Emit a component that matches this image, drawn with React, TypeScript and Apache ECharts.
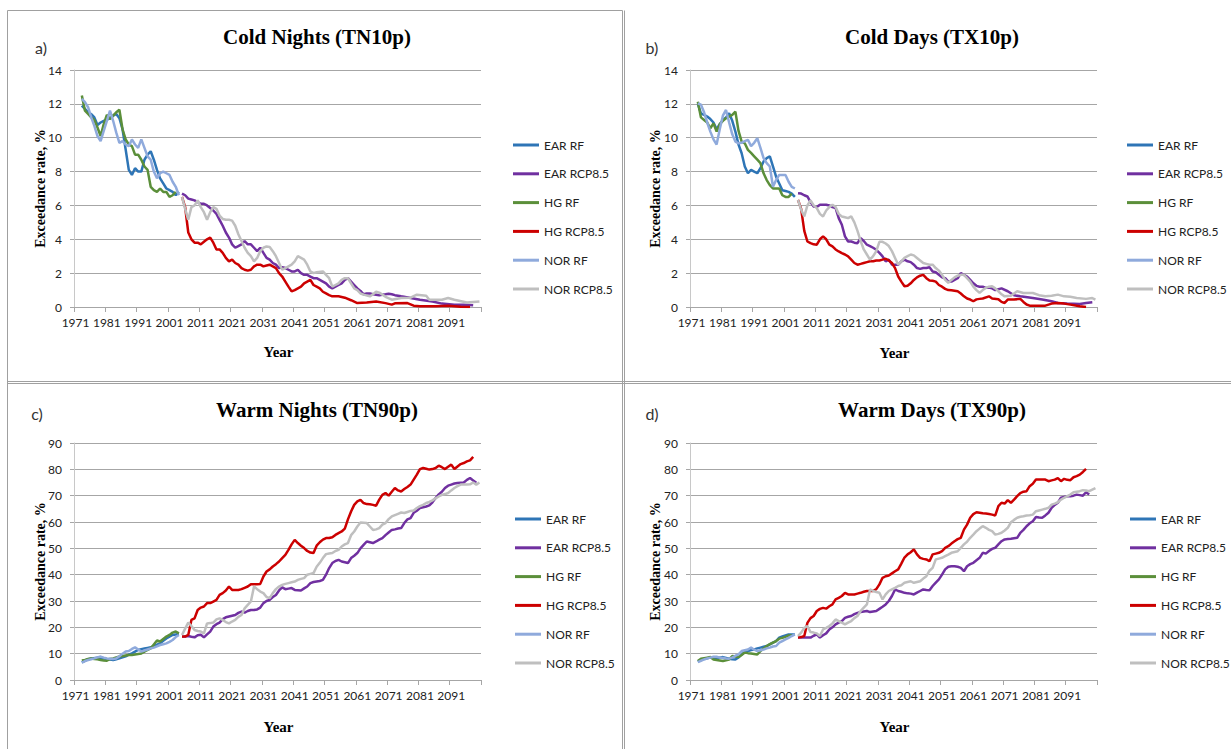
import React, { useEffect, useRef } from "react";
import * as echarts from "echarts";

type Pt = [number, number];

// ---------- categories ----------
const years: string[] = [];
for (let y = 1971; y <= 2100; y++) years.push(String(y));

const seriesNames = ["EAR RF", "EAR RCP8.5", "HG RF", "HG RCP8.5", "NOR RF", "NOR RCP8.5"];
const seriesColors = ["#2E75B6", "#7030A0", "#5B8F3A", "#CC0000", "#8FAADC", "#BFBFBF"];
const panelTitles = ["Cold Nights (TN10p)", "Cold Days (TX10p)", "Warm Nights (TN90p)", "Warm Days (TX90p)"];
const panelLetters = ["a)", "b)", "c)", "d)"];
const yMaxes = [14, 14, 90, 90];
const yIntervals = [2, 2, 10, 10];
const yAxisTitle = "Exceedance rate, %";
const xAxisTitle = "Year";

// ---------- a) Cold Nights (TN10p) ----------
const tn10pEarRf: Pt[] = [[1973,11.9],[1974,11.7],[1975,11.5],[1976,11.4],[1977,11.2],[1978,10.75],[1979,10.9],[1980,11.0],[1982,11.15],[1983,11.3],[1984,11.4],[1985,11.15],[1986,10.5],[1987,9.3],[1988,8.1],[1989,7.8],[1990,8.2],[1991,8.0],[1992,8.0],[1993,8.7],[1994,9.0],[1995,9.2],[1996,8.7],[1997,8.1],[1998,7.6],[1999,7.3],[2000,7.0],[2001,6.9],[2002,6.8],[2003,6.6],[2004,6.8]];
const tn10pEarRcp: Pt[] = [[2005,6.7],[2006,6.6],[2007,6.4],[2008,6.35],[2009,6.3],[2010,6.2],[2011,6.1],[2012,6.1],[2013,6.0],[2014,5.85],[2015,5.7],[2016,5.5],[2017,5.15],[2018,4.8],[2019,4.4],[2020,4.1],[2021,3.7],[2022,3.5],[2023,3.6],[2024,3.7],[2025,3.9],[2026,3.7],[2027,3.7],[2028,3.5],[2029,3.3],[2030,3.5],[2031,3.2],[2032,2.9],[2033,2.8],[2034,2.6],[2035,2.5],[2036,2.3],[2037,2.35],[2038,2.3],[2039,2.2],[2040,2.1],[2041,2.1],[2042,2.2],[2043,2.0],[2044,1.9],[2045,1.9],[2046,1.8],[2047,1.7],[2048,1.7],[2049,1.6],[2050,1.5],[2051,1.4],[2052,1.2],[2053,1.1],[2054,1.2],[2055,1.3],[2056,1.4],[2057,1.6],[2058,1.7],[2059,1.5],[2060,1.3],[2061,1.1],[2062,0.95],[2063,0.75],[2064,0.8],[2065,0.8],[2066,0.75],[2067,0.73],[2068,0.7],[2070,0.75],[2071,0.78],[2072,0.75],[2073,0.7],[2075,0.63],[2078,0.53],[2081,0.43],[2085,0.33],[2088,0.2],[2092,0.14],[2095,0.14],[2098,0.1]];
const tn10pHgRf: Pt[] = [[1973,12.5],[1974,11.6],[1975,11.4],[1976,11.2],[1977,11.05],[1978,10.6],[1979,10.1],[1980,10.8],[1981,11.35],[1982,11.1],[1983,11.3],[1984,11.5],[1985,11.65],[1986,10.5],[1987,9.9],[1988,9.6],[1989,9.5],[1990,9.0],[1991,9.0],[1992,8.7],[1993,8.3],[1994,8.1],[1995,7.1],[1996,6.9],[1997,6.8],[1998,7.0],[1999,6.8],[2000,6.8],[2001,6.5],[2002,6.6],[2003,6.8]];
const tn10pHgRcp: Pt[] = [[2005,6.5],[2006,5.9],[2007,4.4],[2008,4.0],[2009,3.8],[2010,3.8],[2011,3.7],[2012,3.85],[2013,4.0],[2014,4.1],[2015,3.8],[2016,3.4],[2017,3.4],[2018,3.2],[2019,2.9],[2020,2.7],[2021,2.8],[2022,2.6],[2023,2.5],[2024,2.3],[2025,2.2],[2026,2.15],[2027,2.2],[2028,2.4],[2029,2.5],[2030,2.5],[2031,2.4],[2032,2.45],[2033,2.5],[2034,2.4],[2035,2.3],[2036,2.0],[2037,1.8],[2038,1.5],[2039,1.2],[2040,0.92],[2041,1.0],[2042,1.1],[2043,1.2],[2044,1.4],[2045,1.5],[2046,1.6],[2047,1.3],[2048,1.2],[2049,1.1],[2050,0.9],[2051,0.8],[2052,0.7],[2053,0.63],[2055,0.63],[2057,0.55],[2059,0.4],[2061,0.23],[2064,0.27],[2067,0.33],[2070,0.23],[2072,0.14],[2073,0.22],[2077,0.23],[2079,0.08],[2081,0.04],[2086,0.05],[2090,0.08],[2094,0.02],[2097,0.0]];
const tn10pNorRf: Pt[] = [[1973,12.3],[1974,12.1],[1975,11.8],[1976,11.2],[1977,10.7],[1978,10.1],[1979,9.8],[1980,10.4],[1981,11.0],[1982,11.6],[1983,11.0],[1984,10.3],[1985,9.7],[1986,9.8],[1987,9.6],[1988,9.5],[1989,9.9],[1990,9.6],[1991,9.4],[1992,9.9],[1993,9.4],[1994,8.9],[1995,8.7],[1996,8.0],[1997,7.6],[1998,7.9],[1999,8.0],[2000,7.9],[2001,7.8],[2002,7.4],[2003,7.1],[2004,6.6]];
const tn10pNorRcp: Pt[] = [[2005,6.5],[2006,5.8],[2007,5.15],[2008,5.9],[2009,6.0],[2010,6.3],[2011,5.9],[2012,5.6],[2013,5.15],[2014,5.6],[2015,5.9],[2016,5.8],[2017,5.4],[2018,5.2],[2019,5.15],[2020,5.15],[2021,5.1],[2022,4.8],[2023,4.3],[2024,3.9],[2025,3.5],[2026,3.2],[2027,3.0],[2028,2.7],[2029,2.9],[2030,3.3],[2031,3.5],[2032,3.58],[2033,3.55],[2034,3.3],[2035,3.0],[2036,2.6],[2037,2.2],[2038,2.3],[2039,2.4],[2040,2.5],[2041,2.7],[2042,3.0],[2043,2.9],[2044,2.8],[2045,2.5],[2046,2.1],[2047,2.0],[2048,2.05],[2050,2.1],[2051,1.9],[2052,1.7],[2053,1.2],[2054,1.3],[2055,1.4],[2056,1.6],[2057,1.7],[2058,1.7],[2059,1.4],[2060,1.1],[2061,1.0],[2062,0.8],[2063,0.73],[2065,0.63],[2066,0.75],[2067,0.9],[2068,0.85],[2069,0.73],[2070,0.6],[2072,0.43],[2075,0.53],[2078,0.55],[2080,0.73],[2083,0.66],[2084,0.43],[2088,0.43],[2090,0.53],[2092,0.43],[2096,0.27],[2100,0.33]];

// ---------- b) Cold Days (TX10p) ----------
const tx10pEarRf: Pt[] = [[1973,12.0],[1974,11.44],[1975,11.35],[1976,11.25],[1977,11.1],[1978,10.9],[1979,10.5],[1980,10.8],[1981,11.05],[1982,11.2],[1983,11.44],[1984,11.0],[1985,10.36],[1986,9.6],[1987,9.08],[1988,8.3],[1989,7.9],[1990,8.1],[1991,8.0],[1992,7.9],[1993,8.2],[1994,8.6],[1995,8.8],[1996,8.9],[1997,8.3],[1998,7.7],[1999,7.3],[2000,6.9],[2001,6.85],[2002,6.8],[2003,6.7],[2004,6.5]];
const tx10pEarRcp: Pt[] = [[2005,6.72],[2006,6.7],[2007,6.6],[2008,6.53],[2009,6.2],[2010,5.93],[2011,5.9],[2012,6.04],[2013,6.04],[2014,6.04],[2015,6.0],[2016,5.9],[2017,5.84],[2018,5.25],[2019,4.86],[2020,4.17],[2021,3.87],[2022,3.87],[2023,3.8],[2024,3.77],[2025,4.07],[2026,3.9],[2027,3.68],[2028,3.6],[2029,3.5],[2030,3.38],[2031,3.2],[2032,2.99],[2033,2.7],[2034,2.8],[2035,2.5],[2036,2.5],[2037,2.5],[2038,2.7],[2039,2.8],[2040,2.7],[2041,2.65],[2042,2.5],[2043,2.3],[2044,2.25],[2045,2.3],[2046,2.3],[2047,2.35],[2048,2.1],[2049,2.05],[2050,1.9],[2051,1.75],[2052,1.7],[2053,1.5],[2054,1.5],[2055,1.6],[2056,1.7],[2057,2.0],[2058,1.9],[2059,1.8],[2060,1.6],[2061,1.4],[2062,1.25],[2063,1.2],[2064,1.2],[2065,1.13],[2066,1.15],[2067,1.1],[2068,1.0],[2069,1.05],[2070,1.1],[2072,0.93],[2074,0.69],[2076,0.63],[2080,0.53],[2083,0.44],[2086,0.34],[2088,0.24],[2091,0.2],[2095,0.18],[2097,0.24],[2099,0.28]];
const tx10pHgRf: Pt[] = [[1973,12.13],[1974,11.2],[1975,11.05],[1976,10.9],[1977,10.56],[1978,10.85],[1979,10.36],[1980,10.8],[1981,11.0],[1982,11.15],[1983,11.25],[1984,11.35],[1985,11.54],[1986,10.4],[1987,9.77],[1988,9.67],[1989,9.28],[1990,9.1],[1991,8.9],[1992,8.7],[1993,8.5],[1994,7.9],[1995,7.5],[1996,7.2],[1997,7.0],[1998,7.0],[1999,7.0],[2000,6.6],[2001,6.5],[2002,6.5],[2003,6.7]];
const tx10pHgRcp: Pt[] = [[2005,6.33],[2006,5.8],[2007,4.5],[2008,3.87],[2009,3.77],[2010,3.7],[2011,3.68],[2012,4.0],[2013,4.17],[2014,4.0],[2015,3.68],[2016,3.58],[2017,3.4],[2018,3.28],[2019,3.18],[2020,3.1],[2021,2.99],[2022,2.8],[2023,2.6],[2024,2.5],[2025,2.55],[2026,2.6],[2027,2.65],[2028,2.7],[2029,2.7],[2030,2.75],[2031,2.75],[2032,2.8],[2033,2.85],[2034,2.75],[2035,2.6],[2036,2.3],[2037,1.8],[2038,1.5],[2039,1.23],[2040,1.25],[2041,1.4],[2042,1.6],[2043,1.75],[2044,1.85],[2045,1.9],[2046,1.7],[2047,1.56],[2048,1.55],[2049,1.5],[2050,1.3],[2051,1.2],[2052,1.07],[2053,1.0],[2054,0.99],[2056,0.93],[2057,0.8],[2058,0.63],[2059,0.5],[2060,0.44],[2061,0.34],[2062,0.45],[2063,0.48],[2064,0.5],[2066,0.63],[2067,0.5],[2069,0.46],[2070,0.3],[2071,0.24],[2072,0.44],[2074,0.44],[2076,0.48],[2077,0.3],[2078,0.15],[2079,0.08],[2084,0.08],[2086,0.2],[2088,0.24],[2090,0.2],[2092,0.14],[2095,0.04],[2097,0.0]];
const tx10pNorRf: Pt[] = [[1973,12.03],[1974,11.95],[1975,11.5],[1976,10.9],[1977,10.36],[1978,9.9],[1979,9.6],[1980,10.5],[1981,11.3],[1982,11.64],[1983,10.9],[1984,10.2],[1985,9.77],[1986,9.67],[1987,9.7],[1988,9.8],[1989,9.87],[1990,9.5],[1991,9.7],[1992,9.97],[1993,9.4],[1994,8.79],[1995,8.5],[1996,8.3],[1997,7.1],[1998,7.5],[1999,7.8],[2000,7.8],[2001,7.8],[2002,7.4],[2003,7.1],[2004,7.0]];
const tx10pNorRcp: Pt[] = [[2005,6.33],[2006,5.74],[2007,5.35],[2008,6.0],[2009,6.3],[2010,6.0],[2011,5.84],[2012,5.5],[2013,5.35],[2014,5.7],[2015,5.9],[2016,6.04],[2017,5.9],[2018,5.5],[2019,5.35],[2020,5.3],[2021,5.25],[2022,5.35],[2023,5.0],[2024,4.5],[2025,3.9],[2026,3.4],[2027,3.1],[2028,2.8],[2029,3.0],[2030,3.3],[2031,3.85],[2032,3.85],[2033,3.75],[2034,3.6],[2035,3.3],[2036,2.9],[2037,2.5],[2038,2.7],[2039,2.9],[2040,3.0],[2041,3.1],[2042,3.05],[2043,2.9],[2044,2.75],[2045,2.6],[2046,2.55],[2047,2.5],[2048,2.5],[2049,2.3],[2050,2.15],[2051,1.9],[2052,1.6],[2053,1.43],[2054,1.6],[2055,1.75],[2056,1.85],[2057,1.9],[2058,1.9],[2059,1.7],[2060,1.5],[2061,1.2],[2062,1.0],[2063,0.83],[2064,1.0],[2065,1.13],[2066,1.2],[2067,1.23],[2068,1.1],[2069,0.93],[2070,0.75],[2071,0.63],[2073,0.67],[2075,0.93],[2077,0.83],[2080,0.83],[2082,0.7],[2084,0.63],[2086,0.66],[2088,0.73],[2090,0.63],[2092,0.6],[2094,0.53],[2097,0.48],[2099,0.53],[2100,0.44]];

// ---------- c) Warm Nights (TN90p) ----------
const tn90pEarRf: Pt[] = [[1973,6.7],[1974,7.3],[1975,7.9],[1976,8.2],[1978,8.5],[1979,8.4],[1980,8.2],[1981,7.9],[1982,7.8],[1983,7.6],[1984,7.9],[1985,8.2],[1986,8.6],[1987,9.0],[1988,9.6],[1989,10.1],[1990,10.8],[1991,11.4],[1992,11.7],[1993,12.0],[1994,12.2],[1995,12.4],[1996,12.9],[1997,13.4],[1998,13.9],[1999,14.9],[2000,15.8],[2001,16.5],[2002,17.1],[2003,17.3],[2004,17.5]];
const tn90pEarRcp: Pt[] = [[2005,16.5],[2006,16.5],[2007,16.7],[2008,16.4],[2009,16.2],[2010,17.0],[2011,17.2],[2012,16.2],[2013,17.3],[2014,18.4],[2015,20.3],[2016,21.2],[2017,21.8],[2018,23.1],[2019,23.8],[2020,24.1],[2021,24.4],[2022,24.7],[2023,25.5],[2024,26.0],[2025,25.6],[2026,26.2],[2027,26.6],[2028,26.6],[2029,26.8],[2030,27.5],[2031,29.2],[2032,30.0],[2033,30.4],[2034,31.5],[2035,32.3],[2036,34.0],[2037,35.2],[2038,34.5],[2039,34.7],[2040,34.9],[2041,34.2],[2042,34.1],[2043,34.0],[2044,34.8],[2045,35.5],[2046,36.8],[2047,37.2],[2048,37.4],[2049,37.6],[2050,38.0],[2051,40.0],[2052,42.5],[2053,44.4],[2054,45.2],[2055,45.6],[2056,45.0],[2057,44.7],[2058,44.4],[2059,46.3],[2060,47.2],[2061,48.2],[2062,50.0],[2063,51.3],[2064,52.6],[2065,52.3],[2066,52.0],[2067,52.6],[2068,53.3],[2069,53.9],[2070,55.0],[2071,56.0],[2072,57.0],[2073,57.2],[2074,57.5],[2075,57.7],[2076,59.6],[2077,61.0],[2078,61.5],[2079,63.5],[2080,64.3],[2081,65.3],[2082,65.6],[2083,65.9],[2084,66.3],[2085,67.5],[2086,69.1],[2087,70.5],[2088,71.5],[2089,72.9],[2090,73.8],[2091,74.2],[2092,74.6],[2093,74.8],[2094,74.9],[2095,75.0],[2096,76.0],[2097,76.7],[2098,75.8],[2099,74.9]];
const tn90pHgRf: Pt[] = [[1973,7.4],[1974,7.6],[1975,8.0],[1976,8.2],[1977,8.0],[1978,7.9],[1979,7.6],[1980,7.4],[1981,7.35],[1982,8.0],[1983,8.2],[1984,8.6],[1985,8.9],[1986,9.1],[1987,9.3],[1988,9.5],[1989,9.5],[1990,9.7],[1991,9.9],[1992,10.1],[1993,10.8],[1994,11.4],[1995,12.0],[1996,13.5],[1997,15.0],[1998,14.6],[1999,15.6],[2000,16.5],[2001,17.1],[2002,18.0],[2003,18.4],[2004,17.7]];
const tn90pHgRcp: Pt[] = [[2005,16.5],[2006,16.5],[2007,17.1],[2008,22.8],[2009,23.4],[2010,26.6],[2011,27.5],[2012,27.9],[2013,29.2],[2014,29.2],[2015,29.8],[2016,30.4],[2017,32.3],[2018,33.0],[2019,34.0],[2020,35.5],[2021,34.2],[2022,34.2],[2023,34.2],[2024,34.5],[2025,35.0],[2026,35.5],[2027,36.4],[2028,36.4],[2029,36.4],[2030,36.5],[2031,39.3],[2032,41.2],[2033,42.0],[2034,43.1],[2035,44.0],[2036,45.0],[2037,46.3],[2038,47.5],[2039,49.4],[2040,51.5],[2041,53.2],[2042,52.0],[2043,51.0],[2044,50.1],[2045,49.0],[2046,48.4],[2047,48.2],[2048,51.0],[2049,52.3],[2050,53.3],[2051,53.9],[2052,53.9],[2053,54.2],[2054,55.1],[2055,55.8],[2056,56.4],[2057,57.5],[2058,61.0],[2059,64.0],[2060,66.5],[2061,67.8],[2062,68.4],[2063,67.2],[2064,66.8],[2065,66.7],[2066,66.5],[2067,66.2],[2068,68.5],[2069,70.3],[2070,71.0],[2071,70.0],[2072,71.5],[2073,72.9],[2074,72.0],[2075,71.6],[2076,72.5],[2077,73.3],[2078,74.2],[2079,76.1],[2080,78.0],[2081,80.1],[2082,80.5],[2083,80.2],[2084,79.9],[2085,80.1],[2086,80.5],[2087,81.4],[2088,80.8],[2089,80.1],[2090,81.0],[2091,81.8],[2092,80.1],[2093,81.1],[2094,82.0],[2095,82.4],[2096,83.0],[2097,83.4],[2098,84.7]];
const tn90pNorRf: Pt[] = [[1973,6.6],[1974,7.2],[1975,7.6],[1976,7.9],[1977,8.2],[1978,8.6],[1979,8.9],[1980,8.5],[1981,8.2],[1982,8.1],[1983,8.0],[1984,8.2],[1985,9.0],[1986,10.0],[1987,10.8],[1988,11.0],[1989,11.8],[1990,12.4],[1991,11.6],[1992,10.8],[1993,11.2],[1994,11.6],[1995,12.0],[1996,12.3],[1997,12.8],[1998,13.3],[1999,13.6],[2000,13.9],[2001,14.5],[2002,15.2],[2003,16.3],[2004,17.1]];
const tn90pNorRcp: Pt[] = [[2005,17.1],[2006,19.5],[2007,21.8],[2008,20.5],[2009,19.0],[2010,18.6],[2011,18.4],[2012,17.7],[2013,21.5],[2014,21.6],[2015,21.8],[2016,23.0],[2017,23.4],[2018,22.8],[2019,22.0],[2020,21.5],[2021,22.2],[2022,22.8],[2023,24.0],[2024,24.7],[2025,27.2],[2026,28.5],[2027,29.8],[2028,35.5],[2029,34.5],[2030,33.6],[2031,33.0],[2032,31.5],[2033,31.1],[2034,33.0],[2035,34.5],[2036,35.5],[2037,36.1],[2038,36.5],[2039,36.8],[2040,37.1],[2041,37.4],[2042,38.0],[2043,38.4],[2044,38.7],[2045,40.0],[2046,40.3],[2047,40.6],[2048,43.0],[2049,44.5],[2050,46.3],[2051,47.8],[2052,48.0],[2053,48.2],[2054,49.0],[2055,49.4],[2056,50.7],[2057,51.5],[2058,52.0],[2059,55.0],[2060,56.4],[2061,58.3],[2062,59.8],[2063,59.7],[2064,59.6],[2065,58.3],[2066,57.0],[2067,57.2],[2068,57.7],[2069,59.0],[2070,59.6],[2071,61.1],[2072,62.1],[2073,62.6],[2074,63.1],[2075,63.6],[2076,63.4],[2077,63.8],[2078,64.2],[2079,64.4],[2080,65.3],[2081,66.0],[2082,66.5],[2083,67.2],[2084,67.6],[2085,68.2],[2086,69.0],[2087,69.7],[2088,70.3],[2089,70.6],[2090,71.0],[2091,72.0],[2092,72.9],[2093,73.6],[2094,74.2],[2095,74.2],[2096,74.2],[2097,74.3],[2098,75.0],[2099,74.2],[2100,75.0]];

// ---------- d) Warm Days (TX90p) ----------
const tx90pEarRf: Pt[] = [[1973,7.0],[1974,7.6],[1975,8.1],[1976,8.3],[1977,8.5],[1978,8.4],[1979,8.3],[1980,8.5],[1981,8.7],[1982,8.4],[1983,8.1],[1984,7.9],[1985,7.8],[1986,8.6],[1987,9.7],[1988,10.6],[1989,11.0],[1990,11.4],[1991,11.6],[1992,12.0],[1993,12.3],[1994,12.6],[1995,12.9],[1996,13.5],[1997,14.2],[1998,14.8],[1999,16.1],[2000,16.5],[2001,16.9],[2002,17.3],[2003,17.3],[2004,17.3]];
const tx90pEarRcp: Pt[] = [[2005,16.1],[2006,16.1],[2007,16.1],[2008,16.1],[2009,16.1],[2010,16.8],[2011,17.3],[2012,16.1],[2013,17.0],[2014,17.7],[2015,19.2],[2016,20.0],[2017,21.1],[2018,21.8],[2019,22.4],[2020,23.6],[2021,24.0],[2022,24.3],[2023,25.0],[2024,25.5],[2025,25.8],[2026,26.0],[2027,26.2],[2028,25.8],[2029,26.0],[2030,26.2],[2031,27.0],[2032,27.8],[2033,28.7],[2034,30.0],[2035,31.9],[2036,34.4],[2037,33.8],[2038,33.5],[2039,33.1],[2040,32.9],[2041,32.8],[2042,32.5],[2043,33.2],[2044,33.8],[2045,34.4],[2046,34.2],[2047,34.1],[2048,35.7],[2049,37.0],[2050,38.2],[2051,40.0],[2052,42.0],[2053,43.0],[2054,43.2],[2055,43.2],[2056,43.0],[2057,42.6],[2058,41.3],[2059,43.2],[2060,44.0],[2061,44.5],[2062,45.5],[2063,46.4],[2064,48.3],[2065,48.0],[2066,49.0],[2067,49.8],[2068,50.2],[2069,51.5],[2070,52.7],[2071,53.4],[2072,53.5],[2073,53.6],[2074,53.8],[2075,54.0],[2076,55.9],[2077,57.0],[2078,58.4],[2079,59.5],[2080,60.3],[2081,61.9],[2082,61.7],[2083,61.6],[2084,62.5],[2085,63.5],[2086,65.4],[2087,66.5],[2088,67.3],[2089,69.2],[2090,69.5],[2091,69.8],[2092,69.8],[2093,70.0],[2094,70.4],[2095,70.2],[2096,70.0],[2097,71.3],[2098,70.4]];
const tx90pHgRf: Pt[] = [[1973,7.2],[1974,8.1],[1975,8.3],[1976,8.5],[1977,8.7],[1978,7.8],[1979,7.6],[1980,7.4],[1981,7.2],[1982,7.5],[1983,7.8],[1984,9.1],[1985,8.9],[1986,8.7],[1987,9.5],[1988,10.4],[1989,10.2],[1990,10.1],[1991,9.9],[1992,9.7],[1993,11.0],[1994,12.0],[1995,12.9],[1996,13.6],[1997,14.2],[1998,14.8],[1999,15.7],[2000,16.0],[2001,16.4],[2002,16.9],[2003,17.0]];
const tx90pHgRcp: Pt[] = [[2005,16.1],[2006,16.3],[2007,16.7],[2008,21.7],[2009,23.5],[2010,24.3],[2011,26.2],[2012,27.0],[2013,27.4],[2014,27.1],[2015,28.0],[2016,28.7],[2017,30.6],[2018,31.2],[2019,31.9],[2020,33.1],[2021,32.5],[2022,32.5],[2023,32.5],[2024,32.8],[2025,33.1],[2026,33.5],[2027,33.8],[2028,33.8],[2029,33.8],[2030,34.5],[2031,36.3],[2032,38.8],[2033,39.4],[2034,39.7],[2035,40.5],[2036,41.3],[2037,42.0],[2038,44.2],[2039,46.5],[2040,47.7],[2041,48.5],[2042,49.6],[2043,47.7],[2044,46.4],[2045,46.0],[2046,45.8],[2047,45.1],[2048,47.7],[2049,48.0],[2050,48.3],[2051,48.9],[2052,50.2],[2053,50.8],[2054,51.8],[2055,52.7],[2056,53.5],[2057,54.0],[2058,57.1],[2059,59.0],[2060,61.6],[2061,63.0],[2062,63.7],[2063,63.5],[2064,63.3],[2065,63.2],[2066,63.0],[2067,62.8],[2068,62.5],[2069,66.0],[2070,67.3],[2071,67.0],[2072,68.3],[2073,67.3],[2074,68.5],[2075,69.8],[2076,71.0],[2077,71.5],[2078,71.7],[2079,73.6],[2080,74.5],[2081,76.1],[2082,76.1],[2083,76.1],[2084,76.1],[2085,75.5],[2086,75.8],[2087,76.1],[2088,76.7],[2089,75.5],[2090,76.4],[2091,76.0],[2092,75.9],[2093,77.0],[2094,77.4],[2095,78.0],[2096,79.0],[2097,80.2]];
const tx90pNorRf: Pt[] = [[1973,6.8],[1974,7.3],[1975,7.8],[1976,8.2],[1977,8.5],[1978,8.8],[1979,8.8],[1980,8.5],[1981,8.4],[1982,8.2],[1983,8.1],[1984,8.5],[1985,9.2],[1986,9.7],[1987,11.0],[1988,11.3],[1989,11.6],[1990,12.3],[1991,11.5],[1992,11.0],[1993,11.3],[1994,11.6],[1995,12.0],[1996,12.3],[1997,12.7],[1998,12.9],[1999,14.2],[2000,14.8],[2001,15.4],[2002,16.0],[2003,16.7],[2004,17.3]];
const tx90pNorRcp: Pt[] = [[2005,16.7],[2006,18.0],[2007,19.8],[2008,20.5],[2009,18.2],[2010,18.0],[2011,17.7],[2012,16.7],[2013,19.2],[2014,19.8],[2015,20.5],[2016,21.5],[2017,23.0],[2018,22.4],[2019,21.8],[2020,21.1],[2021,21.8],[2022,22.4],[2023,23.5],[2024,24.3],[2025,26.2],[2026,27.5],[2027,28.7],[2028,34.4],[2029,33.8],[2030,33.4],[2031,33.1],[2032,30.6],[2033,32.5],[2034,33.8],[2035,34.4],[2036,35.0],[2037,35.7],[2038,36.0],[2039,36.9],[2040,37.2],[2041,37.5],[2042,36.9],[2043,37.2],[2044,37.5],[2045,38.5],[2046,39.4],[2047,41.5],[2048,42.6],[2049,45.8],[2050,46.1],[2051,46.4],[2052,47.0],[2053,47.6],[2054,48.3],[2055,48.6],[2056,48.9],[2057,50.2],[2058,51.5],[2059,52.5],[2060,54.0],[2061,55.2],[2062,56.5],[2063,57.5],[2064,58.4],[2065,57.8],[2066,57.0],[2067,56.5],[2068,55.2],[2069,55.5],[2070,55.9],[2071,56.8],[2072,57.8],[2073,59.9],[2074,60.8],[2075,61.6],[2076,62.0],[2077,62.2],[2078,62.5],[2079,62.6],[2080,62.8],[2081,64.1],[2082,64.4],[2083,64.7],[2084,65.0],[2085,65.4],[2086,66.6],[2087,67.0],[2088,67.5],[2089,68.5],[2090,69.2],[2091,69.8],[2092,70.4],[2093,71.3],[2094,71.5],[2095,71.7],[2096,72.1],[2097,72.0],[2098,71.7],[2099,72.3],[2100,72.9]];

const panelData: Pt[][][] = [
  [tn10pEarRf, tn10pEarRcp, tn10pHgRf, tn10pHgRcp, tn10pNorRf, tn10pNorRcp],
  [tx10pEarRf, tx10pEarRcp, tx10pHgRf, tx10pHgRcp, tx10pNorRf, tx10pNorRcp],
  [tn90pEarRf, tn90pEarRcp, tn90pHgRf, tn90pHgRcp, tn90pNorRf, tn90pNorRcp],
  [tx90pEarRf, tx90pEarRcp, tx90pHgRf, tx90pHgRcp, tx90pNorRf, tx90pNorRcp],
];

// ---------- layout ----------
const GRID_W = 407;
const GRID_H = 237;
const layout = [
  { left: 74, top: 70, titleX: 317, titleY: 37, letterX: 41, letterY: 47, yNameX: 40, yearY: 352, legendLeft: 513, legendTop: 138 },
  { left: 690, top: 70, titleX: 932, titleY: 37, letterX: 652, letterY: 47, yNameX: 655, yearY: 353, legendLeft: 1127, legendTop: 138 },
  { left: 74, top: 443, titleX: 317, titleY: 410, letterX: 37, letterY: 413, yNameX: 40, yearY: 727, legendLeft: 515, legendTop: 512 },
  { left: 690, top: 443, titleX: 932, titleY: 410, letterX: 652, letterY: 413, yNameX: 655, yearY: 727, legendLeft: 1130, legendTop: 512 },
];

const SERIF = "'Liberation Serif', 'Times New Roman', serif";
const SANS = "Lato, 'Noto Sans', sans-serif";
const GRID_COLOR = "#A6A6A6";

function buildOption() {
  const grid: any[] = [];
  const xAxis: any[] = [];
  const yAxis: any[] = [];
  const series: any[] = [];
  const legend: any[] = [];
  const graphic: any[] = [];

  layout.forEach((L, p) => {
    grid.push({ left: L.left, top: L.top, width: GRID_W, height: GRID_H, containLabel: false });
    xAxis.push({
      type: "category",
      gridIndex: p,
      data: years,
      boundaryGap: true,
      axisLine: { show: true, lineStyle: { color: GRID_COLOR, width: 1 } },
      axisTick: { show: true, interval: 9, length: 5, lineStyle: { color: GRID_COLOR } },
      axisLabel: { interval: 9, margin: 9, fontFamily: SANS, fontSize: 12, color: "#222" },
      splitLine: { show: false },
    });
    yAxis.push({
      type: "value",
      gridIndex: p,
      min: 0,
      max: yMaxes[p],
      interval: yIntervals[p],
      axisLine: { show: true, lineStyle: { color: "#C8C8C8", width: 1 } },
      axisTick: { show: true, length: 4, lineStyle: { color: GRID_COLOR } },
      axisLabel: { margin: 12, fontFamily: SANS, fontSize: 12, color: "#222" },
      splitLine: { show: true, lineStyle: { color: GRID_COLOR, width: 1 } },
    });
    seriesNames.forEach((name, i) => {
      series.push({
        type: "line",
        name,
        xAxisIndex: p,
        yAxisIndex: p,
        data: panelData[p][i].map(([yr, v]) => [String(yr), v]),
        showSymbol: false,
        symbol: "none",
        lineStyle: { color: seriesColors[i], width: 2.5 },
        itemStyle: { color: seriesColors[i] },
        z: 2 + i,
      });
    });
    legend.push({
      orient: "vertical",
      left: L.legendLeft,
      top: L.legendTop,
      padding: 0,
      itemGap: 14.8,
      itemWidth: 26,
      itemHeight: 3,
      icon: "rect",
      data: seriesNames,
      selectedMode: false,
      textStyle: { fontFamily: SANS, fontSize: 12, color: "#222", lineHeight: 14 },
    });
    graphic.push(
      {
        type: "text",
        x: L.titleX,
        y: L.titleY,
        style: { text: panelTitles[p], fontFamily: SERIF, fontWeight: "bold", fontSize: 21, fill: "#000", align: "center", verticalAlign: "middle" },
      },
      {
        type: "text",
        x: L.letterX,
        y: L.letterY,
        style: { text: panelLetters[p], fontFamily: SANS, fontSize: 16, fill: "#333", align: "center", verticalAlign: "middle" },
      },
      {
        type: "text",
        x: L.yNameX,
        y: L.top + GRID_H / 2,
        rotation: Math.PI / 2,
        style: { text: yAxisTitle, fontFamily: SERIF, fontWeight: "bold", fontSize: 14, fill: "#000", align: "center", verticalAlign: "middle" },
      },
      {
        type: "text",
        x: L.left + GRID_W / 2 + 1,
        y: L.yearY,
        style: { text: xAxisTitle, fontFamily: SERIF, fontWeight: "bold", fontSize: 15, fill: "#000", align: "center", verticalAlign: "middle" },
      }
    );
  });

  // panel frames
  const frame = { stroke: "#A0A0A0", lineWidth: 1 };
  const lines = [
    [7.5, 10.5, 622.5, 10.5],
    [7.5, 10.5, 7.5, 749],
    [622.5, 10.5, 622.5, 749],
    [624.5, 10.5, 624.5, 749],
    [7.5, 381.5, 1231, 381.5],
    [7.5, 383.5, 1231, 383.5],
  ];
  lines.forEach(([x1, y1, x2, y2]) =>
    graphic.push({ type: "line", shape: { x1, y1, x2, y2 }, style: frame, silent: true })
  );

  return {
    animation: false,
    backgroundColor: "#fff",
    grid,
    xAxis,
    yAxis,
    series,
    legend,
    graphic,
  };
}

export default function App() {
  const ref = useRef<HTMLDivElement>(null);
  useEffect(() => {
    if (!ref.current) return;
    const chart = echarts.init(ref.current, undefined, { renderer: "svg" });
    chart.setOption(buildOption() as any);
    return () => chart.dispose();
  }, []);
  return (
    <div
      ref={ref}
      style={{ position: "fixed", left: 0, top: 0, width: 1231, height: 749, background: "#fff" }}
    />
  );
}
